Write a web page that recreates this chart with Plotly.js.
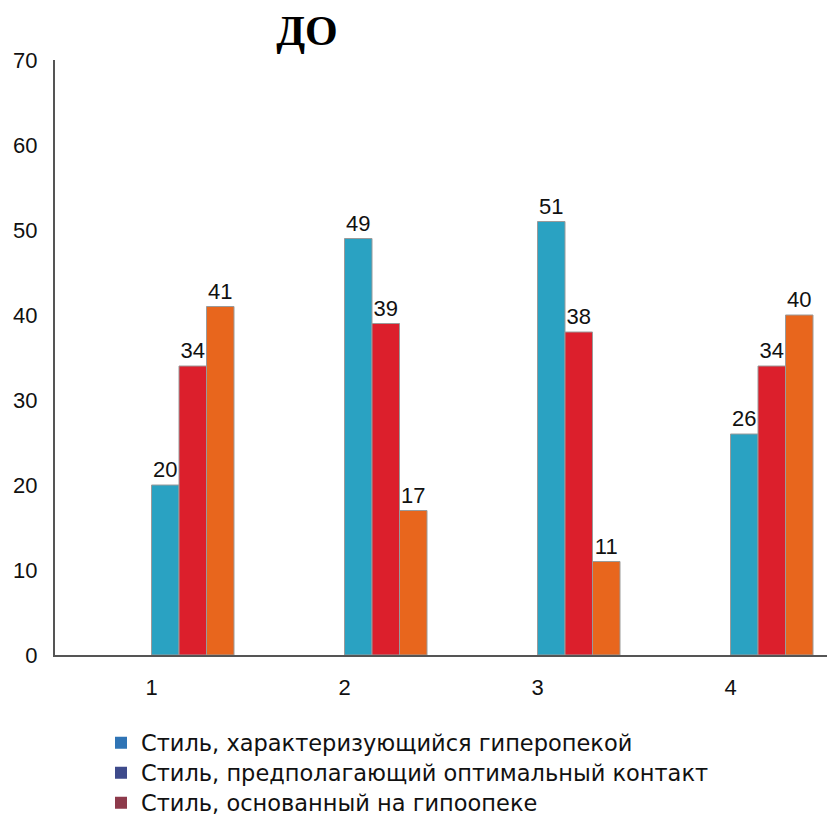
<!DOCTYPE html>
<html><head><meta charset="utf-8">
<script src="https://cdn.plot.ly/plotly-3.0.1.min.js"></script>
<style>html,body{margin:0;padding:0;background:#fff}</style>
</head><body><div id="chart" style="width:827px;height:816px"></div>
<script>
const categories = [1, 2, 3, 4];
const seriesA = [20, 49, 51, 26];
const seriesB = [34, 39, 38, 34];
const seriesC = [41, 17, 11, 40];
const legendNames = [
  "Стиль, характеризующийся гиперопекой",
  "Стиль, предполагающий оптимальный контакт",
  "Стиль, основанный на гипоопеке"
];
const barColors = ["#2aa2c2", "#dc1f2c", "#e8661d"];
const legendColors = ["#2f74b5", "#3e4a8b", "#8d3a4b"];
const yTicks = [0, 10, 20, 30, 40, 50, 60, 70];

const bw = 0.1425;
const series = [seriesA, seriesB, seriesC];
const txtFont = {family: "Liberation Sans, Arial, sans-serif", size: 22, color: "#111"};
const traces = series.map((s, i) => ({
  type: "bar", x: categories, y: s, offset: i * bw, width: bw,
  marker: {color: barColors[i], line: {color: "#9a9a9a", width: 1}},
  text: s.map(String), textposition: "outside", cliponaxis: false,
  constraintext: "none", textfont: txtFont, outsidetextfont: txtFont,
  showlegend: false, hoverinfo: "skip"
}));
const legendIds = ["legend", "legend2", "legend3"];
legendNames.forEach((n, i) => traces.push({
  type: "bar", x: [categories[0]], y: [null], name: n, legend: legendIds[i],
  marker: {color: legendColors[i]}, showlegend: true
}));

const rowCenters = [743, 773, 803];
const layout = {
  width: 827, height: 816,
  margin: {l: 55, r: 0, t: 60, b: 161, autoexpand: false},
  barmode: "overlay",
  paper_bgcolor: "#fff", plot_bgcolor: "#fff",
  font: {family: "Liberation Sans, Arial, sans-serif", size: 22, color: "#111"},
  title: {text: "<b>ДО</b>", font: {family: "Liberation Serif, Times New Roman, serif", size: 42, color: "#000"},
          x: 307/827, xref: "container", xanchor: "center", y: 1 - 30/816, yref: "container", yanchor: "middle"},
  xaxis: {range: [0.5, 4.5], tickvals: categories, ticktext: categories.map(String),
          showgrid: false, zeroline: false, showline: true, linecolor: "#555", linewidth: 2,
          ticks: "", ticklabelstandoff: 12, tickfont: {size: 22}},
  yaxis: {range: [0, 70], tickvals: yTicks, showgrid: false, zeroline: false,
          showline: true, linecolor: "#555", linewidth: 2, ticks: "", ticklabelstandoff: 11,
          tickfont: {size: 22}}
};
legendIds.forEach((id, i) => {
  layout[id] = {x: (101 - 55) / 772, xref: "paper", y: (655 - rowCenters[i]) / 595, yref: "paper",
    xanchor: "left", yanchor: "middle", orientation: "v", itemwidth: 30,
    font: {family: "DejaVu Sans, sans-serif", size: 22.5, color: "#111"}, bgcolor: "rgba(0,0,0,0)"};
});
Plotly.newPlot("chart", traces, layout, {displayModeBar: false, staticPlot: true});
</script></body></html>
